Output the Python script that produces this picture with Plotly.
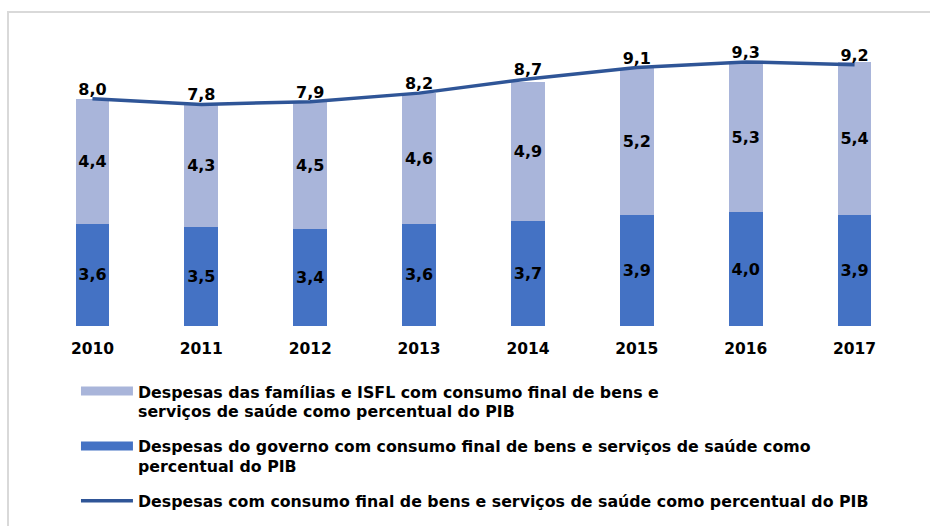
import plotly.graph_objects as go

years = ["2010", "2011", "2012", "2013", "2014", "2015", "2016", "2017"]
governo = [3.6, 3.5, 3.4, 3.6, 3.7, 3.9, 4.0, 3.9]
familias = [4.4, 4.3, 4.5, 4.6, 4.9, 5.2, 5.3, 5.4]
total = [8.0, 7.8, 7.9, 8.2, 8.7, 9.1, 9.3, 9.2]

leg_familias = ["Despesas das famílias e ISFL com consumo final de bens e",
                "serviços de saúde como percentual do PIB"]
leg_governo = ["Despesas do governo com consumo final de bens e serviços de saúde como",
               "percentual do PIB"]
leg_total = ["Despesas com consumo final de bens e serviços de saúde como percentual do PIB"]

C_LIGHT = "#A9B5DA"
C_DARK = "#4472C4"
C_LINE = "#2F5597"
FONT = "DejaVu Sans"


def fmt(v):
    return f"{v:.1f}".replace(".", ",")


W_FIG, H_FIG = 930, 526
L, R_EDGE = 38, 909.5
B, T = 326, 42
PW, PH = R_EDGE - L, B - T


def px(x):
    return (x - L) / PW


def py(y):
    return (B - y) / PH


fig = go.Figure()
for vals, col in ((governo, C_DARK), (familias, C_LIGHT)):
    fig.add_trace(go.Bar(
        x=years, y=vals, marker_color=col, marker_line_width=0,
        text=[fmt(v) for v in vals], textposition="inside", insidetextanchor="middle",
        textangle=0, constraintext="none",
        textfont=dict(family=FONT, size=16, color="black", weight="bold"),
        showlegend=False, hoverinfo="skip",
    ))
fig.add_trace(go.Scatter(
    x=years, y=total, mode="lines+text", line=dict(color=C_LINE, width=3.5),
    text=[fmt(v) for v in total], textposition="top center",
    textfont=dict(family=FONT, size=16, color="black", weight="bold"),
    showlegend=False, hoverinfo="skip", cliponaxis=False,
))

shapes = [
    dict(type="rect", xref="paper", yref="paper", x0=px(8), x1=px(1000), y0=py(600), y1=py(12),
         line=dict(color="#D9D9D9", width=2), fillcolor="rgba(0,0,0,0)", layer="below"),
    dict(type="rect", xref="paper", yref="paper", x0=px(81), x1=px(133), y0=py(395.5), y1=py(386.5),
         line=dict(width=0), fillcolor=C_LIGHT),
    dict(type="rect", xref="paper", yref="paper", x0=px(81), x1=px(133), y0=py(450.5), y1=py(441.5),
         line=dict(width=0), fillcolor=C_DARK),
    dict(type="line", xref="paper", yref="paper", x0=px(81), x1=px(133), y0=py(500.7), y1=py(500.7),
         line=dict(width=3.5, color=C_LINE)),
]

legfont = dict(family=FONT, size=15.8, color="black", weight="bold")
annotations = []
for lines, ys in ((leg_familias, (392.7, 411.7)), (leg_governo, (446.7, 466.2)), (leg_total, (501,))):
    for txt, yy in zip(lines, ys):
        annotations.append(dict(xref="paper", yref="paper", x=px(136), y=py(yy), text=txt,
                                showarrow=False, xanchor="left", yanchor="middle", align="left",
                                font=legfont))

fig.update_layout(
    width=W_FIG, height=H_FIG,
    margin=dict(l=L, r=W_FIG - R_EDGE, t=T, b=H_FIG - B),
    barmode="stack", bargap=0.69,
    plot_bgcolor="white", paper_bgcolor="white",
    separators=", ",
    shapes=shapes, annotations=annotations,
    xaxis=dict(type="category", showgrid=False, showline=False, zeroline=False, ticks="",
               tickfont=dict(family=FONT, size=15.5, color="black", weight="bold"),
               ticklabelstandoff=11),
    yaxis=dict(visible=False, range=[0, 10]),
)

fig.write_html("out.html")
